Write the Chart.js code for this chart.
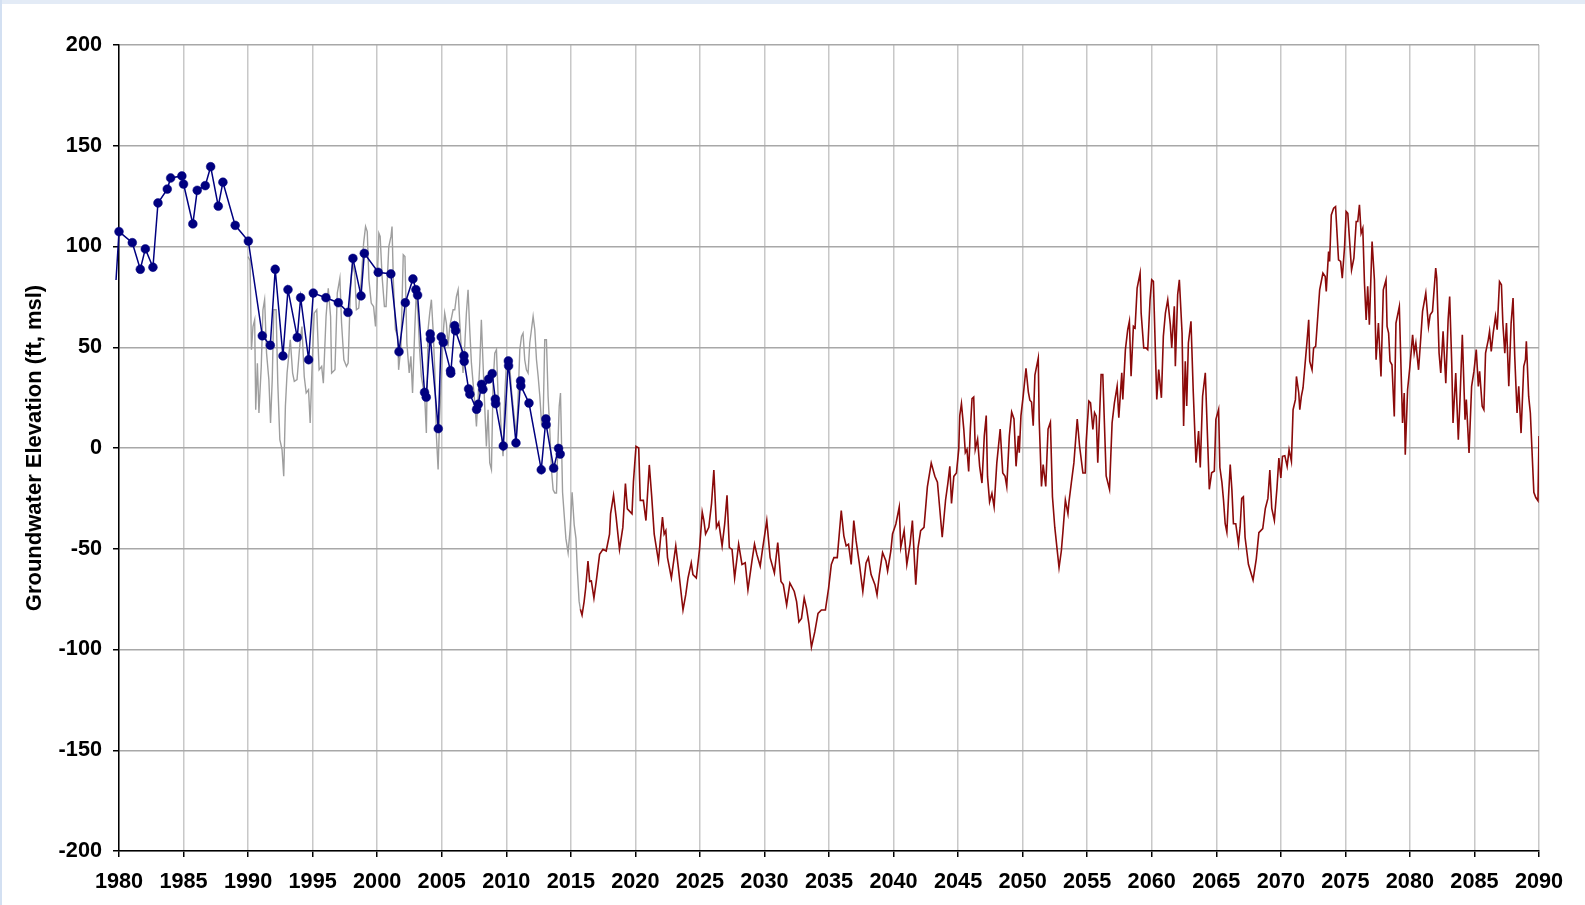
<!DOCTYPE html>
<html>
<head>
<meta charset="utf-8">
<script src="https://cdn.jsdelivr.net/npm/chart.js@4.4.1/dist/chart.umd.min.js"></script>
<style>
  html, body { margin: 0; padding: 0; background: #ffffff; overflow: hidden; }
  #wrap { position: relative; width: 1585px; height: 905px; }
  #topband { position: absolute; left: 0; top: 0; width: 1585px; height: 4px; background: #e3ebf6; }
  #leftband { position: absolute; left: 0; top: 0; width: 2px; height: 905px; background: #d3e0f2; }
  canvas { position: absolute; left: 0; top: 0; }
</style>
</head>
<body>
<div id="wrap">
  <div id="topband"></div>
  <div id="leftband"></div>
  <canvas id="c" width="1585" height="905"></canvas>
</div>
<script>
// ---- Data ----
const xTickLabels = [1980,1985,1990,1995,2000,2005,2010,2015,2020,2025,2030,2035,2040,2045,2050,2055,2060,2065,2070,2075,2080,2085,2090];
const yTickLabels = [-200,-150,-100,-50,0,50,100,150,200];
const yAxisTitle = "Groundwater Elevation (ft, msl)";

// Observed groundwater elevations (navy markers)
const observedYears = [1979.56,1979.77,1980.0,1981.03,1981.65,1982.04,1982.63,1983.02,1983.74,1984.0,1984.87,1985.0,1985.72,1986.06,1986.68,1987.1,1987.69,1988.05,1989.0,1990.02,
  1991.1,1991.72,1992.1,1992.7,1993.09,1993.81,1994.07,1994.69,1995.05,1996.03,1996.99,1997.74,1998.12,1998.75,1999.0,2000.08,2001.06,2001.69,2002.18,2002.77,2003.0,2003.13,2003.67,2003.8,2004.11,2004.13,2004.73,2004.96,2005.12,2005.68,2005.7,2006.0,2006.07,2006.72,2006.74,
  2007.08,2007.18,2007.7,2007.83,2008.09,2008.19,2008.63,2008.91,2009.15,2009.17,2009.77,2010.16,2010.18,2010.75,2011.11,2011.13,2011.76,2012.71,2013.07,2013.09,2013.67,2014.05,2014.18];
const observedValues = [90,83.4,107.4,101.9,88.7,98.8,89.7,121.6,128.5,134,135,131,111.2,127.9,130.2,139.6,120,131.9,110.5,102.7,
  55.7,51,88.7,45.7,78.6,54.9,74.6,43.8,76.9,74.6,72.1,67.3,94.1,75.5,96.6,87.2,86.4,47.8,72.1,83.9,78.6,75.9,27.6,25.2,56.6,54.1,9.6,55.1,52.4,38.4,37.1,60.7,58.2,45.8,43,
  29.3,26.7,19.2,21.7,31.6,29.1,34.2,36.9,24.3,22,1,43.2,40.8,2.5,33.3,30.8,22.3,-10.8,14.4,11.6,-10,-0.2,-3];

// Simulated historical (gray)
const historicalYears = [1990.0,1990.15,1990.26,1990.38,1990.51,1990.59,1990.72,1990.84,1991.02,1991.15,1991.28,1991.43,1991.61,1991.74,1991.87,1991.99,1992.17,1992.3,1992.46,1992.63,1992.76,1992.89,1993.02,1993.27,1993.45,1993.58,1993.79,1994.04,1994.17,1994.35,1994.5,1994.68,1994.81,1994.94,1995.12,1995.32,1995.5,1995.7,1995.83,1996.04,1996.21,1996.39,1996.47,1996.73,1996.91,1997.11,1997.24,1997.42,1997.62,1997.75,1997.93,1998.08,1998.26,1998.39,1998.57,1998.77,1998.95,1999.1,1999.23,1999.36,1999.54,1999.72,1999.87,2000.0,2000.13,2000.23,2000.38,2000.56,2000.69,2000.9,2001.07,2001.15,2001.25,2001.41,2001.59,2001.66,2001.84,2002.02,2002.15,2002.3,2002.48,2002.61,2002.74,
  2002.91,2003.04,2003.17,2003.29,2003.42,2003.55,2003.68,2003.81,2003.94,2004.07,2004.2,2004.33,2004.46,2004.59,2004.72,2004.84,2004.97,2005.1,2005.23,2005.36,2005.49,2005.62,2005.88,2006.01,2006.14,2006.27,2006.4,2006.52,2006.65,2006.78,2006.91,2007.04,2007.17,2007.3,2007.43,2007.56,2007.69,2007.82,2007.95,2008.07,2008.2,2008.33,2008.46,2008.59,2008.72,2008.85,2008.98,2009.11,2009.24,2009.37,2009.5,2009.63,2009.75,2009.88,2010.01,2010.14,2010.27,2010.4,2010.53,2010.79,2010.92,2011.05,2011.18,2011.3,2011.43,2011.56,2011.69,2011.82,2011.95,2012.08,2012.21,2012.34,2012.47,2012.6,2012.73,2012.86,2012.98,2013.11,2013.24,2013.37,2013.5,2013.63,2013.76,2013.89,2013.97,2014.1,2014.2,2014.36,2014.62,2014.79,2014.95,2015.1,2015.26,2015.4,2015.5,2015.64,2015.74];
const historicalValues = [95,93,48.8,60.3,63.6,19,42.1,17.4,40.5,68.6,73.6,47.1,33.9,12.4,33.9,68.6,68.6,32.2,4.1,-0.8,-14,20.7,37.2,53.7,37.2,33.1,33.9,53.7,60.3,35.5,27.3,28.9,12.4,37.2,66.9,68.6,38.8,40.5,32.2,65.3,79.3,65.3,37.2,38.8,76.9,84.3,62,43.8,40.5,42.1,78.5,91.7,86.8,68.6,69.4,83.5,101.7,109.9,107.4,83.5,71.9,70.2,60.3,81.8,106.6,105,85.1,70.2,70.2,100,105,109.9,83.5,58.7,55.4,38.8,50.4,95.9,95,52.1,37.2,45.5,27.3,
  58.7,78.5,65.3,48.8,35.5,30.6,25.6,7.4,58.7,66.9,73.6,58.7,38.8,5.8,-10.7,15.7,33.9,55.4,66.9,62,50.4,60.3,68.6,68.6,75.2,78.5,62,48.8,37.2,50.4,66.9,78.5,58.7,42.1,32.2,22.3,10.7,25.6,42.1,63.6,42.1,20.7,0.8,19,-7.4,-10.7,32.2,47.1,48.8,25.6,22.3,5.8,-4.1,25.6,42.1,43.8,40.5,28.9,20.7,5.8,25.6,48.8,55.4,57,43.8,38.8,37.2,52.1,58.7,65.3,58.7,43.8,35.5,25.6,12.4,15.7,53.7,53.7,25.6,9.1,-10.7,-20.7,-22.3,-22.3,-4.1,20.7,27.3,-22,-45,-52,-40,-22,-38,-45,-60,-76,-80];

// Projected (dark red)
const projectedYears = [2015.74,2015.87,2016.03,2016.15,2016.33,2016.46,2016.59,2016.79,2016.97,2017.23,2017.49,2017.74,2018.0,2018.08,2018.31,2018.51,2018.77,2019.03,2019.23,2019.38,2019.74,2019.85,2020.05,2020.26,2020.38,2020.62,2020.82,2021.08,2021.26,2021.46,2021.79,2022.1,2022.23,2022.36,2022.49,2022.79,2023.13,2023.33,2023.69,2023.9,2024.08,2024.33,2024.46,2024.72,2024.97,2025.18,2025.31,2025.44,2025.69,2025.9,2026.08,2026.28,2026.46,2026.72,2026.92,2027.1,2027.28,2027.49,2027.69,2028.0,2028.26,2028.51,2028.72,2029.03,2029.23,2029.41,2029.67,2029.85,2030.18,2030.44,2030.77,2031.03,2031.28,2031.46,2031.72,2031.97,2032.31,2032.49,2032.67,2032.87,2033.08,2033.26,2033.44,2033.64,2033.9,2034.15,2034.41,2034.72,2034.97,2035.18,2035.38,2035.64,2035.95,2036.15,2036.33,2036.51,2036.72,2036.92,2037.1,2037.36,2037.62,2037.87,2038.05,2038.26,2038.56,2038.72,2038.9,2039.15,2039.41,2039.54,2039.79,2039.92,2040.18,2040.44,2040.56,2040.82,2041.03,2041.28,2041.46,2041.72,2041.9,2042.1,2042.36,2042.62,2042.92,2043.2,2043.4,2043.59,2043.77,
  2044.03,2044.21,2044.36,2044.49,2044.67,2044.87,2045.05,2045.13,2045.26,2045.44,2045.56,2045.69,2045.82,2045.95,2046.08,2046.21,2046.33,2046.51,2046.67,2046.85,2047.03,2047.18,2047.28,2047.44,2047.62,2047.79,2048.0,2048.26,2048.46,2048.64,2048.77,2048.97,2049.15,2049.33,2049.49,2049.67,2049.74,2049.87,2050.05,2050.26,2050.44,2050.56,2050.69,2050.82,2050.95,2051.21,2051.28,2051.46,2051.59,2051.79,2051.97,2052.15,2052.31,2052.49,2052.82,2053.0,2053.13,2053.31,2053.51,2053.59,2053.77,2053.97,2054.23,2054.41,2054.67,2054.85,2054.92,
  2055.13,2055.26,2055.44,2055.57,2055.7,2055.82,2056.08,2056.21,2056.47,2056.73,2056.93,2057.11,2057.32,2057.45,2057.68,2057.76,2057.96,2058.14,2058.27,2058.4,2058.58,2058.71,2058.87,2059.1,2059.18,2059.38,2059.56,2059.69,2059.87,2060.0,2060.13,2060.39,2060.54,2060.75,2060.9,2061.06,2061.24,2061.44,2061.55,2061.75,2061.83,2062.01,2062.14,2062.35,2062.47,2062.6,2062.71,2062.84,2063.04,2063.22,2063.43,2063.63,2063.76,2063.94,2064.15,2064.46,2064.64,2064.85,2064.97,2065.18,2065.28,2065.44,2065.56,2065.69,2065.82,2065.95,2066.08,2066.21,2066.33,2066.51,2066.72,2066.85,2066.97,2067.1,2067.23,2067.49,2067.85,2068.1,2068.3,2068.6,2068.8,2069.0,2069.15,2069.3,2069.5,2069.7,2069.85,
  2070.0,2070.13,2070.31,2070.49,2070.64,2070.82,2070.95,2071.13,2071.21,2071.39,2071.47,2071.59,2071.72,2071.93,2072.03,2072.16,2072.24,2072.42,2072.54,2072.7,2072.88,2073.01,2073.26,2073.44,2073.52,2073.7,2073.78,2073.91,2074.09,2074.24,2074.47,2074.63,2074.76,2074.94,2075.06,2075.19,2075.27,2075.48,2075.66,2075.84,2075.96,2076.09,2076.22,2076.35,2076.48,2076.61,2076.73,2076.86,2077.07,2077.25,2077.38,2077.56,2077.76,2077.94,2078.15,2078.23,2078.35,2078.46,2078.61,2078.79,2078.92,2079.18,2079.43,2079.56,2079.64,2079.82,
  2080.0,2080.21,2080.33,2080.46,2080.67,2080.85,2080.98,2081.23,2081.44,2081.57,2081.75,2082.0,2082.08,2082.26,2082.39,2082.57,2082.78,2082.96,2083.08,2083.24,2083.34,2083.55,2083.75,2083.88,2084.06,2084.27,2084.37,2084.58,2084.78,2084.96,2085.14,2085.3,2085.4,2085.6,2085.73,2085.86,2086.07,2086.17,2086.3,2086.45,2086.63,2086.76,2086.94,2087.09,2087.2,2087.35,2087.48,2087.66,2087.84,2087.99,2088.12,2088.3,2088.43,2088.61,2088.82,2088.95,2089.02,2089.2,2089.33,2089.6,2089.75,2089.92,2090.0];
const projectedValues = [-80,-82.9,-76.2,-69.5,-56.1,-66.2,-66,-74.5,-66.2,-52.8,-50.3,-51.1,-42.7,-32.7,-23.5,-34.3,-50.3,-39.4,-17.6,-30.2,-32.7,-16.8,0.8,0,-26,-26,-36,-8.4,-23.5,-42.7,-56.1,-34.3,-42.7,-41,-54.4,-64.5,-48.6,-59.5,-80.4,-72.9,-64.5,-57,-62.8,-64.5,-50.3,-31.8,-36,-42.7,-39.4,-27.6,-10.9,-39.4,-36.9,-48.6,-37.7,-23.5,-49.4,-50.3,-64.5,-47.7,-57.8,-57,-70.4,-56.1,-47.7,-52.8,-58.6,-50.3,-36,-54.4,-62,-46.9,-66.2,-67.8,-77.9,-67,-71.2,-76.2,-86.3,-84.6,-74.5,-79.6,-87.1,-98.8,-91.3,-82.1,-80.4,-80.4,-69.5,-57.8,-54.4,-54.4,-31,-43.6,-48.6,-47.7,-57.8,-36,-46.1,-57.8,-71.2,-57,-54.4,-62.8,-67.8,-72.9,-62.8,-51.9,-56.1,-61.1,-51.1,-42.7,-37.7,-29.3,-49.4,-41,-57.8,-47.7,-36,-67.8,-49.4,-41,-39.4,-19.3,-7.5,-14,-17,-30.9,-44.3,
  -25.8,-17.4,-9.1,-27.5,-14.1,-12.4,-0.7,16.1,22,9.4,-2.3,-0.7,-11.6,9.4,24.5,25.3,-0.7,4.4,-9.1,-17.4,6,16.1,-14.1,-26.7,-22.5,-29.2,-7.4,9.4,-12.4,-14.1,-19.1,6,17.8,14.4,-9.1,6,-2.3,16.1,26.2,39.6,27.9,23.7,22.8,11.1,36.2,44.6,14.4,-19.1,-8.2,-19.1,9.4,12.8,-24.2,-39.3,-59.4,-51,-40.9,-25.8,-32.6,-26.7,-17.4,-7.4,14.4,1,-12.4,-12.4,2.7,
  23.3,22.4,9.2,17.5,15.8,-7.3,36.5,36.5,-13.9,-20.5,12.5,22.4,30.7,15,37.3,24.1,48.8,58.7,62.9,35.6,60.4,59.6,79.4,86.8,67,49.7,49.7,48.8,73.6,83.5,82.7,24.1,38.9,24.9,55.4,67,73.6,61.2,49.7,70.3,40.6,76.1,83.5,57.1,10.9,43.1,20.8,52.1,62.9,27.4,-7.3,8.4,-9.7,25.7,37.3,-20.5,-12.3,-11.4,14.2,19.1,-9.7,-17.2,-25.8,-37.6,-41.8,-24.2,-8.2,-20.8,-37.6,-37.6,-47.7,-39.3,-25,-24.2,-44.3,-57.7,-65.5,-55,-42,-40,-30,-25,-11,-30,-36,-20,-5,
  -14.9,-4.1,-3.8,-9.1,-0.8,-6.6,19,24,35.5,27.3,19,25.6,29.8,45.5,52.9,63.6,43,38.8,49.6,50.4,66.9,78.5,86.8,85.1,77.7,97.5,92.6,115.7,119,119.8,93.4,92.6,84.3,100,117.4,116.5,108.3,88.4,94.2,112.4,112.4,120.7,106.6,109.1,81.8,63.6,80.2,61.2,102.5,83.5,43.8,62,35.5,78.5,83.5,60.3,57,43,41.3,15.7,62,70.2,12.4,27.3,-3.3,28.9,
  40.5,56.2,47.1,52.1,38.8,55.4,67.8,76.9,60.3,66.1,67.8,89.3,84.3,47.1,37.2,57.9,32.2,63.6,75.2,42.1,12.4,37.2,4.1,24,56.2,14,24,-2.5,30.6,38,48.8,30.6,38,20.7,19,47.1,53.7,57.9,47.9,57,65.3,58.7,82.6,81,62,47.1,62,30.6,62,74.4,45.5,17.4,30.6,7.4,40.5,43.8,52.9,25.6,17.4,-22,-24.6,-26.2,6];

const toPoints = (xs, ys) => xs.map((x, i) => ({ x: x, y: ys[i] }));

// ---- Layout (pixels) ----
const PLOT_LEFT = 119, PLOT_RIGHT = 1539, PLOT_TOP = 45, PLOT_BOTTOM = 851;
const W = 1585, H = 905;
const PAD_LEFT = 18;
const FONT = "'Liberation Sans', Arial, Helvetica, sans-serif";

new Chart(document.getElementById('c'), {
  type: 'line',
  data: {
    datasets: [
      {
        label: 'Observed',
        data: toPoints(observedYears, observedValues),
        borderColor: '#000080',
        backgroundColor: '#000080',
        borderWidth: 1.5,
        pointRadius: (ctx) => (ctx.raw && ctx.raw.x < 1980 ? 0 : 4.4),
        pointBackgroundColor: '#000080',
        pointBorderColor: '#000080',
        pointBorderWidth: 0.5,
        tension: 0,
        clip: false,
        order: 0
      },
      {
        label: 'Simulated',
        data: toPoints(historicalYears, historicalValues),
        borderColor: '#9e9e9e',
        borderWidth: 1.4,
        pointRadius: 0,
        tension: 0,
        order: 2
      },
      {
        label: 'Projected',
        data: toPoints(projectedYears, projectedValues),
        borderColor: '#8b0a0a',
        borderWidth: 1.6,
        pointRadius: 0,
        tension: 0,
        order: 1
      }
    ]
  },
  options: {
    responsive: false,
    animation: false,
    devicePixelRatio: 1,
    parsing: false,
    layout: { padding: { left: PAD_LEFT, top: PLOT_TOP, right: W - PLOT_RIGHT, bottom: 0 } },
    plugins: { legend: { display: false }, tooltip: { enabled: false }, title: { display: false } },
    scales: {
      x: {
        type: 'linear',
        min: 1980, max: 2090,
        afterBuildTicks: (s) => { s.ticks = xTickLabels.map(v => ({ value: v })); },
        afterFit: (s) => { s.height = H - PLOT_BOTTOM; },
        ticks: {
          callback: (v) => String(v),
          autoSkip: false, maxRotation: 0,
          color: '#000',
          font: { family: FONT, size: 21.7, weight: 'bold' },
          padding: 12
        },
        grid: { color: '#c8c8c8', lineWidth: 1.5, tickLength: 6, tickColor: '#000', tickWidth: 1.5 },
        border: { display: true, color: '#000', width: 1.5 }
      },
      y: {
        type: 'linear',
        min: -200, max: 200,
        afterBuildTicks: (s) => { s.ticks = yTickLabels.map(v => ({ value: v })); },
        afterFit: (s) => { s.width = PLOT_LEFT - PAD_LEFT; },
        ticks: {
          callback: (v) => String(v),
          color: '#000',
          font: { family: FONT, size: 21.7, weight: 'bold' },
          padding: 11
        },
        grid: { color: '#a8a8a8', lineWidth: 1.5, tickLength: 6, tickColor: '#000', tickWidth: 1.5 },
        border: { display: true, color: '#000', width: 1.5 },
        title: {
          display: true,
          text: yAxisTitle,
          color: '#000',
          font: { family: FONT, size: 22, weight: 'bold' },
          padding: { top: 4, bottom: 4 }
        }
      }
    }
  }
});
</script>
</body>
</html>
